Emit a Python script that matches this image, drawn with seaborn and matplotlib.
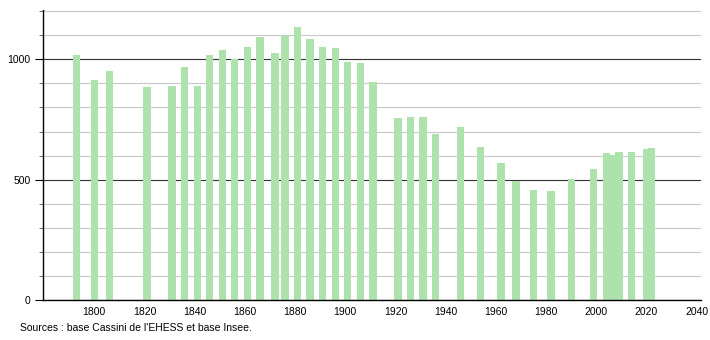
import matplotlib
matplotlib.use("Agg")
import matplotlib.pyplot as plt
import seaborn as sns
import pandas as pd
from matplotlib.ticker import MultipleLocator, FixedLocator

years = [1793, 1800, 1806, 1821, 1831, 1836, 1841, 1846, 1851, 1856,
         1861, 1866, 1872, 1876, 1881, 1886, 1891, 1896, 1901, 1906,
         1911, 1921, 1926, 1931, 1936, 1946, 1954, 1962, 1968, 1975,
         1982, 1990, 1999, 2004, 2006, 2009, 2014, 2020, 2022]
population = [1020, 913, 951, 884, 890, 967, 889, 1017, 1039, 1001,
              1050, 1091, 1027, 1098, 1133, 1083, 1051, 1046, 990, 986,
              907, 755, 760, 760, 690, 717, 634, 569, 496, 457,
              453, 501, 543, 611, 603, 615, 615, 627, 631]
x_ticks = [1800, 1820, 1840, 1860, 1880, 1900, 1920, 1940, 1960, 1980, 2000, 2020, 2040]
y_ticks = [0, 500, 1000]
source_text = "Sources : base Cassini de l'EHESS et base Insee."

df = pd.DataFrame({"year": years, "pop": population})

sns.set_theme(style="white")
plt.rcParams["font.family"] = ["Liberation Sans", "DejaVu Sans"]

fig = plt.figure(figsize=(7.1, 3.4), dpi=100)
ax = fig.add_axes([43 / 710, 1 - 300 / 340, (701 - 43) / 710, 290 / 340])

sns.barplot(data=df, x="year", y="pop", native_scale=True, width=1.45,
            color="#ade2ad", saturation=1, errorbar=None, ax=ax, zorder=2,
            linewidth=0)

ax.set_xlim(1779.6, 2041.7)
ax.set_ylim(0, 1205)
ax.set_xlabel("")
ax.set_ylabel("")

ax.xaxis.set_major_locator(FixedLocator(x_ticks))
ax.set_xticklabels([str(t) for t in x_ticks])
ax.yaxis.set_major_locator(FixedLocator(y_ticks))
ax.set_yticklabels([str(t) for t in y_ticks])
ax.yaxis.set_minor_locator(MultipleLocator(100))

ax.set_axisbelow(True)
ax.grid(which="minor", axis="y", color="#c8c8c8", linewidth=0.8)
ax.grid(which="major", axis="y", color="#333333", linewidth=0.8)
ax.grid(which="both", axis="x", visible=False)

for s in ["top", "right"]:
    ax.spines[s].set_visible(False)
for s in ["left", "bottom"]:
    ax.spines[s].set_color("black")
    ax.spines[s].set_linewidth(1.0)

ax.tick_params(axis="x", which="both", length=0, pad=5, labelsize=7.5, colors="black")
ax.tick_params(axis="y", which="major", length=6, width=0.8, pad=3, labelsize=7.5,
               colors="black", left=True)
ax.tick_params(axis="y", which="minor", length=3, width=0.6, color="#555555", left=True)

fig.text(20 / 710, 1 - 328 / 340, source_text, fontsize=7.5, va="center", ha="left",
         color="black")

fig.savefig("out.png", dpi=100)
